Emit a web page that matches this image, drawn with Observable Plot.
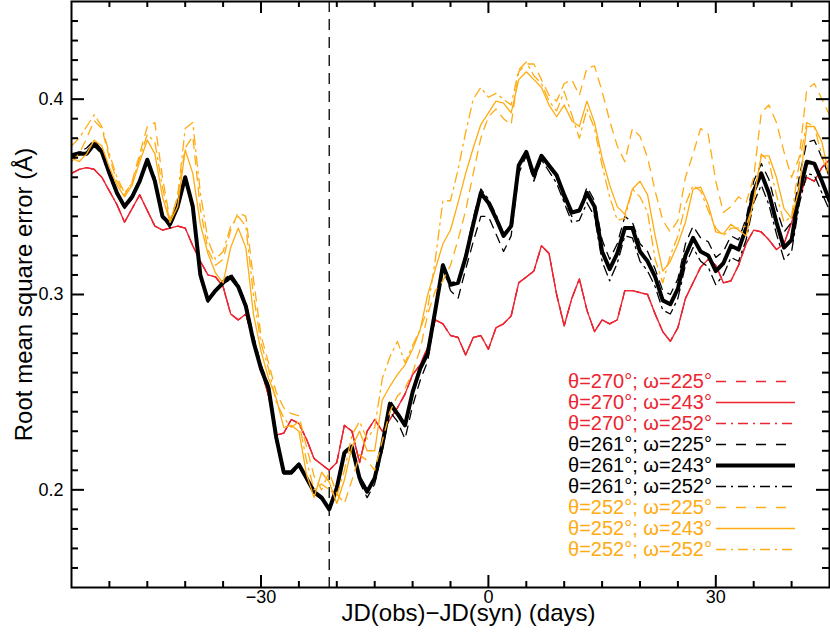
<!DOCTYPE html>
<html><head><meta charset="utf-8">
<script src="https://cdn.jsdelivr.net/npm/d3@7"></script>
<script src="https://cdn.jsdelivr.net/npm/@observablehq/plot@0.6"></script>
<style>
body{margin:0;background:#fff;font-family:"Liberation Sans",Arial,sans-serif;}
#wrap{position:relative;width:830px;height:643px;}
#legend{position:absolute;right:35px;top:371px;font-size:20px;}
.row{display:flex;align-items:center;justify-content:flex-end;height:21px;line-height:21px;white-space:nowrap;}
.row svg{margin-left:4px;display:block}
</style></head><body><div id="wrap"><div id="legend"></div></div>
<script>
// sampling grid (days)
const days = d3.range(-55, 46);

const red = [
0.362,0.364,0.365,0.364,0.360,0.353,0.346,0.337,0.344,0.351,
0.343,0.335,0.333,0.334,0.335,0.334,0.325,0.317,0.310,0.309,
0.304,0.290,0.287,0.290,0.276,0.262,0.248,0.228,0.229,0.236,
0.234,0.226,0.216,0.213,0.210,0.214,0.233,0.230,0.214,0.230,
0.236,0.230,0.236,0.242,0.249,0.259,0.264,0.273,0.287,0.285,
0.279,0.278,0.269,0.278,0.279,0.272,0.283,0.285,0.289,0.306,
0.309,0.312,0.325,0.321,0.300,0.284,0.298,0.308,0.292,0.281,
0.287,0.285,0.287,0.302,0.302,0.301,0.300,0.290,0.281,0.276,
0.283,0.298,0.306,0.314,0.318,0.315,0.306,0.307,0.315,0.326,
0.333,0.332,0.328,0.323,0.326,0.337,0.350,0.360,0.358,0.365,
0.369];

const black225 = [
0.370,0.373,0.375,0.379,0.374,0.362,0.351,0.344,0.349,0.357,
0.369,0.360,0.340,0.334,0.345,0.359,0.343,0.308,0.296,0.302,
0.307,0.311,0.305,0.296,0.279,0.264,0.254,0.229,0.210,0.208,
0.212,0.205,0.198,0.195,0.191,0.200,0.217,0.220,0.204,0.196,
0.203,0.220,0.240,0.235,0.226,0.243,0.256,0.266,0.290,0.314,
0.302,0.298,0.313,0.327,0.340,0.340,0.331,0.322,0.330,0.362,
0.371,0.358,0.369,0.365,0.360,0.348,0.340,0.343,0.355,0.348,
0.328,0.318,0.326,0.340,0.337,0.326,0.322,0.313,0.302,0.300,
0.308,0.326,0.335,0.329,0.327,0.319,0.322,0.330,0.328,0.339,
0.358,0.367,0.359,0.344,0.332,0.337,0.360,0.378,0.379,0.370,
0.360];

const black243 = [
0.371,0.372,0.372,0.377,0.373,0.362,0.352,0.345,0.350,0.358,
0.369,0.358,0.340,0.336,0.345,0.360,0.345,0.310,0.297,0.302,
0.306,0.309,0.304,0.294,0.276,0.262,0.252,0.227,0.209,0.209,
0.213,0.206,0.199,0.196,0.190,0.201,0.219,0.222,0.206,0.199,
0.206,0.223,0.244,0.239,0.233,0.250,0.262,0.270,0.292,0.315,
0.305,0.306,0.319,0.336,0.352,0.347,0.339,0.330,0.335,0.366,
0.373,0.361,0.371,0.366,0.361,0.351,0.342,0.343,0.352,0.345,
0.322,0.313,0.321,0.334,0.334,0.322,0.317,0.309,0.297,0.295,
0.303,0.320,0.329,0.322,0.320,0.312,0.316,0.325,0.323,0.334,
0.353,0.362,0.352,0.337,0.324,0.328,0.352,0.368,0.367,0.358,
0.348];

const black252 = [
0.372,0.373,0.373,0.376,0.372,0.361,0.351,0.345,0.351,0.359,
0.368,0.357,0.339,0.336,0.346,0.360,0.346,0.311,0.298,0.302,
0.305,0.308,0.304,0.293,0.275,0.261,0.251,0.226,0.208,0.208,
0.212,0.206,0.199,0.196,0.191,0.202,0.220,0.223,0.207,0.200,
0.207,0.225,0.246,0.240,0.234,0.251,0.263,0.271,0.293,0.316,
0.306,0.307,0.321,0.339,0.354,0.349,0.341,0.331,0.336,0.366,
0.372,0.359,0.369,0.363,0.357,0.347,0.337,0.338,0.347,0.340,
0.317,0.307,0.316,0.330,0.329,0.317,0.312,0.304,0.292,0.290,
0.298,0.315,0.324,0.317,0.314,0.305,0.310,0.319,0.317,0.328,
0.347,0.356,0.346,0.331,0.318,0.322,0.346,0.362,0.361,0.352,
0.343];

const orange225 = [
0.368,0.372,0.380,0.389,0.385,0.370,0.358,0.351,0.358,0.372,
0.386,0.388,0.360,0.338,0.350,0.375,0.381,0.344,0.323,0.315,
0.318,0.333,0.342,0.340,0.308,0.279,0.265,0.250,0.242,0.239,
0.238,0.222,0.207,0.200,0.209,0.198,0.193,0.205,0.218,0.215,
0.210,0.225,0.240,0.248,0.252,0.260,0.272,0.290,0.302,0.307,
0.315,0.328,0.343,0.362,0.380,0.391,0.395,0.390,0.387,0.414,
0.418,0.418,0.410,0.402,0.399,0.408,0.410,0.402,0.416,0.417,
0.404,0.389,0.376,0.368,0.385,0.381,0.370,0.353,0.338,0.332,
0.338,0.360,0.372,0.385,0.382,0.358,0.342,0.345,0.350,0.347,
0.360,0.393,0.397,0.388,0.373,0.360,0.370,0.405,0.408,0.400,
0.392];

const orange243 = [
0.370,0.368,0.372,0.379,0.376,0.365,0.356,0.350,0.356,0.368,
0.379,0.372,0.350,0.337,0.345,0.374,0.362,0.336,0.321,0.311,
0.306,0.324,0.334,0.324,0.290,0.271,0.257,0.247,0.232,0.233,
0.230,0.208,0.196,0.209,0.204,0.193,0.205,0.222,0.230,0.220,
0.220,0.246,0.253,0.259,0.264,0.272,0.282,0.300,0.313,0.326,
0.333,0.347,0.362,0.375,0.387,0.393,0.399,0.398,0.393,0.410,
0.414,0.410,0.406,0.397,0.391,0.397,0.389,0.386,0.399,0.388,
0.370,0.356,0.345,0.341,0.354,0.358,0.351,0.330,0.312,0.317,
0.326,0.337,0.354,0.355,0.346,0.332,0.331,0.336,0.333,0.330,
0.349,0.371,0.371,0.360,0.344,0.339,0.354,0.386,0.386,0.378,
0.360];

const orange252 = [
0.376,0.380,0.386,0.392,0.386,0.372,0.360,0.352,0.357,0.370,
0.382,0.378,0.355,0.337,0.350,0.385,0.388,0.352,0.328,0.318,
0.322,0.335,0.340,0.335,0.300,0.275,0.262,0.245,0.237,0.232,
0.235,0.215,0.200,0.203,0.200,0.197,0.210,0.228,0.235,0.226,
0.232,0.257,0.268,0.276,0.265,0.274,0.282,0.293,0.318,0.348,
0.348,0.364,0.383,0.400,0.406,0.401,0.403,0.400,0.397,0.415,
0.419,0.412,0.408,0.399,0.394,0.404,0.392,0.380,0.395,0.385,
0.366,0.350,0.338,0.339,0.354,0.350,0.342,0.318,0.306,0.320,
0.330,0.346,0.356,0.353,0.343,0.334,0.330,0.334,0.334,0.335,
0.347,0.372,0.368,0.351,0.337,0.340,0.367,0.388,0.386,0.371,
0.358];

const xMajor = [-30, 0, 30];
const xMinor = [-50,-45,-40,-35,-25,-20,-15,-10,-5,5,10,15,20,25,35,40];
const yMajor = [0.2, 0.3, 0.4];
const yMinor = [0.16,0.17,0.18,0.19,0.21,0.22,0.23,0.24,0.25,0.26,0.27,0.28,0.29,
  0.31,0.32,0.33,0.34,0.35,0.36,0.37,0.38,0.39,0.41,0.42,0.43,0.44];
const synDay = -21;

const RED = "#ec2530", ORANGE = "#ffab12", BLACK = "#000";
const DASH = "9,7", DASHDOT = "10,5,2,5";

const series = [
  {theta: 270, omega: 225, color: RED, dash: DASH, width: 1.3, values: red},
  {theta: 270, omega: 243, color: RED, dash: null, width: 1.3, values: red},
  {theta: 270, omega: 252, color: RED, dash: DASHDOT, width: 1.3, values: red},
  {theta: 261, omega: 225, color: BLACK, dash: DASH, width: 1.3, values: black225},
  {theta: 261, omega: 243, color: BLACK, dash: null, width: 4, values: black243},
  {theta: 261, omega: 252, color: BLACK, dash: DASHDOT, width: 1.3, values: black252},
  {theta: 252, omega: 225, color: ORANGE, dash: DASH, width: 1.3, values: orange225},
  {theta: 252, omega: 243, color: ORANGE, dash: null, width: 1.3, values: orange243},
  {theta: 252, omega: 252, color: ORANGE, dash: DASHDOT, width: 1.3, values: orange252}
];

const W = 830, H = 643, ML = 71, MR = 1, MT = 1, MB = 56;
const PW = W - ML - MR, PH = H - MT - MB;

const fmtX = d => d < 0 ? "\u2212" + Math.abs(d) : String(d);

const lineMarks = series.map(s => Plot.line(
  s.values.map((v, i) => ({day: days[i], rms: v})),
  {x: "day", y: "rms", stroke: s.color, strokeWidth: s.width,
   strokeDasharray: s.dash, strokeLinejoin: "round", clip: true}));

const tk = {stroke: "#000", strokeWidth: 2};
const chart = Plot.plot({
  width: W, height: H,
  marginLeft: ML, marginRight: MR, marginTop: MT, marginBottom: MB,
  style: {fontFamily: "'Liberation Sans', Arial, sans-serif", fontSize: "18px", background: "#fff", color: "#000"},
  x: {domain: [-55, 45]},
  y: {domain: [0.15, 0.45]},
  marks: [
    Plot.ruleX([synDay], {stroke: "#000", strokeWidth: 1.3, strokeDasharray: "11,7"}),
    ...lineMarks,
    // inward ticks on all four sides
    Plot.tickX(xMajor, {x: d => d, insetTop: PH - 12, ...tk}),
    Plot.tickX(xMinor, {x: d => d, insetTop: PH - 6, ...tk}),
    Plot.tickX(xMajor, {x: d => d, insetBottom: PH - 12, ...tk}),
    Plot.tickX(xMinor, {x: d => d, insetBottom: PH - 6, ...tk}),
    Plot.tickY(yMajor, {y: d => d, insetRight: PW - 13, ...tk}),
    Plot.tickY(yMinor, {y: d => d, insetRight: PW - 7, ...tk}),
    Plot.tickY(yMajor, {y: d => d, insetLeft: PW - 13, ...tk}),
    Plot.tickY(yMinor, {y: d => d, insetLeft: PW - 7, ...tk}),
    Plot.axisX(xMajor, {anchor: "bottom", tickSize: 0, tickPadding: 3, tickFormat: fmtX, fontSize: 18, label: null}),
    Plot.axisY(yMajor, {anchor: "left", tickSize: 0, tickPadding: 8, tickFormat: d => d.toFixed(1), fontSize: 18, label: null}),
    Plot.text(["JD(obs)\u2212JD(syn) (days)"], {frameAnchor: "bottom", textAnchor: "middle", dx: 18, dy: 33, fontSize: 24}),
    Plot.text(["Root mean square error (\u00c5)"], {frameAnchor: "left", textAnchor: "middle", rotate: -90, dx: -47, fontSize: 24}),
    Plot.frame({stroke: "#000", strokeWidth: 2})
  ]
});
document.getElementById("wrap").prepend(chart);

// legend
const legend = document.getElementById("legend");
for (const s of series) {
  const row = document.createElement("div");
  row.className = "row";
  row.style.color = s.color;
  const label = document.createElement("span");
  label.textContent = `\u03b8=${s.theta}\u00b0; \u03c9=${s.omega}\u00b0`;
  row.appendChild(label);
  const svg = d3.create("svg").attr("width", 79).attr("height", 21);
  svg.append("line").attr("x1", 0).attr("x2", 79).attr("y1", 10.5).attr("y2", 10.5)
    .attr("stroke", s.color).attr("stroke-width", s.width)
    .attr("stroke-dasharray", s.dash ? (s.dash === DASH ? "10,10" : s.dash) : null);
  row.appendChild(svg.node());
  legend.appendChild(row);
}
</script>
</body></html>
